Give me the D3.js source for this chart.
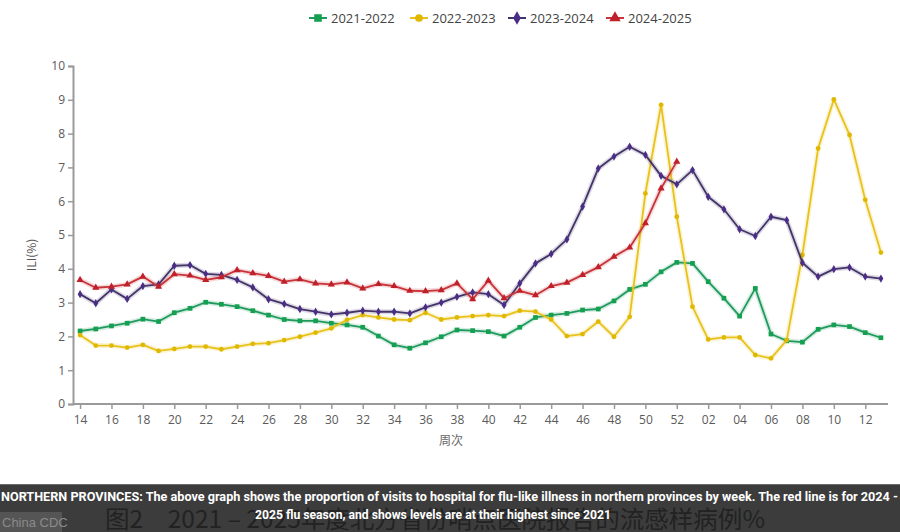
<!DOCTYPE html>
<html><head><meta charset="utf-8">
<script src="https://cdn.jsdelivr.net/npm/d3@7"></script>
<style>body{margin:0;background:#fff;overflow:hidden}</style>
</head><body><svg id="c" width="900" height="532"></svg>
<script>
const weeks = ["14","15","16","17","18","19","20","21","22","23","24","25","26","27","28","29","30","31","32","33","34","35","36","37","38","39","40","41","42","43","44","45","46","47","48","49","50","51","52","01","02","03","04","05","06","07","08","09","10","11","12","13"];
const tickLabels = ["14","16","18","20","22","24","26","28","30","32","34","36","38","40","42","44","46","48","50","52","02","04","06","08","10","12"];
const yTicks = [0,1,2,3,4,5,6,7,8,9,10];
const seriesNames = ["2021-2022","2022-2023","2023-2024","2024-2025"];
const s2122 = [2.16,2.22,2.31,2.39,2.51,2.44,2.70,2.83,3.01,2.95,2.88,2.76,2.63,2.50,2.46,2.46,2.39,2.34,2.27,2.01,1.75,1.65,1.81,1.99,2.19,2.17,2.14,2.01,2.27,2.56,2.63,2.68,2.78,2.81,3.05,3.39,3.54,3.91,4.19,4.16,3.62,3.13,2.60,3.42,2.07,1.87,1.83,2.21,2.34,2.29,2.11,1.96];
const s2223 = [2.04,1.73,1.73,1.67,1.75,1.57,1.63,1.70,1.70,1.62,1.70,1.78,1.80,1.89,1.99,2.11,2.24,2.49,2.63,2.56,2.50,2.48,2.70,2.50,2.56,2.60,2.63,2.60,2.76,2.73,2.50,2.01,2.07,2.44,1.99,2.58,6.23,8.85,5.54,2.88,1.91,1.97,1.97,1.45,1.35,1.89,4.41,7.56,9.01,7.96,6.04,4.48];
const s2324 = [3.25,2.98,3.39,3.11,3.49,3.54,4.09,4.11,3.85,3.82,3.67,3.45,3.10,2.96,2.81,2.73,2.65,2.70,2.76,2.73,2.73,2.68,2.86,3.00,3.17,3.30,3.25,2.93,3.57,4.16,4.44,4.87,5.84,6.97,7.32,7.61,7.37,6.75,6.50,6.92,6.13,5.76,5.17,4.97,5.54,5.44,4.18,3.77,3.99,4.04,3.77,3.71];
const s2425 = [3.67,3.44,3.47,3.54,3.77,3.47,3.84,3.80,3.67,3.75,3.96,3.87,3.79,3.62,3.69,3.57,3.54,3.60,3.42,3.55,3.49,3.35,3.34,3.37,3.57,3.10,3.65,3.13,3.35,3.22,3.49,3.59,3.82,4.05,4.36,4.63,5.35,6.38,7.17];
const captionLine1 = "NORTHERN PROVINCES: The above graph shows the proportion of visits to hospital for flu-like illness in northern provinces by week. The red line is for 2024 -";
const captionLine2 = "2025 flu season, and shows levels are at their highest since 2021";
const figTitle = "图2　2021 – 2025年度北方省份哨点医院报告的流感样病例%";

const svg = d3.select("#c");
const x = d3.scalePoint().domain(weeks).range([73, 888]).padding(0.45);
const y = d3.scaleLinear().domain([0, 10]).range([404, 66]);

const series = [
  {name: seriesNames[0], values: s2122, color: "#1f9a5e", mark: "#14a050", sym: d3.symbolSquare, size: 22},
  {name: seriesNames[1], values: s2223, color: "#e8c21c", mark: "#e0b800", sym: d3.symbolCircle, size: 18},
  {name: seriesNames[2], values: s2324, color: "#433468", mark: "#4a2d86", sym: d3.symbolDiamond, size: 20},
  {name: seriesNames[3], values: s2425, color: "#c8343a", mark: "#c0202a", sym: d3.symbolTriangle, size: 22}
];

// axes
const axCol = "#9a9a9a";
const yAxis = svg.append("g").attr("transform", "translate(73,0)")
  .call(d3.axisLeft(y).tickValues(yTicks).tickSize(5).tickPadding(3));
const xAxis = svg.append("g").attr("transform", "translate(0,404)")
  .call(d3.axisBottom(x).tickValues(tickLabels).tickSize(5).tickPadding(6));
[yAxis, xAxis].forEach(g => {
  g.selectAll("path").attr("stroke", axCol).attr("stroke-width", 2);
  g.selectAll("line").attr("stroke", axCol).attr("stroke-width", 1.5);
  g.selectAll("text").attr("fill", "#5a5a5a").style("font-family", "'Open Sans', 'Noto Sans', sans-serif").style("font-size", "12px");
});
xAxis.select("path").attr("d", "M73,0H888");

svg.append("text").attr("transform", "translate(36,255) rotate(-90)").attr("text-anchor", "middle")
  .attr("fill", "#555").style("font-family", "'Noto Sans CJK SC', 'Open Sans', sans-serif").style("font-size", "12px").text("ILI(%)");
svg.append("text").attr("x", 451).attr("y", 445).attr("text-anchor", "middle")
  .attr("fill", "#666").style("font-family", "'Noto Sans CJK SC', sans-serif").style("font-size", "12px").text("周次");

// lines
const line = d3.line().x((d, i) => x(weeks[i])).y(d => y(d));
series.forEach(s => {
  const g = svg.append("g");
  g.append("path").datum(s.values).attr("d", line).attr("fill", "none")
    .attr("stroke", s.color).attr("stroke-opacity", 0.18).attr("stroke-width", 5).attr("stroke-linejoin", "round");
  g.append("path").datum(s.values).attr("d", line).attr("fill", "none")
    .attr("stroke", s.color).attr("stroke-width", 1.8).attr("stroke-linejoin", "round");
  g.selectAll("path.m").data(s.values).enter().append("path").attr("class", "m")
    .attr("transform", (d, i) => `translate(${x(weeks[i])},${y(d)})`)
    .attr("d", d3.symbol().type(s.sym).size(s.size)).attr("fill", s.mark);
});

// legend
const legX = [309, 410, 508, 606];
series.forEach((s, i) => {
  const g = svg.append("g").attr("transform", `translate(${legX[i]},18)`);
  g.append("line").attr("x1", 0).attr("x2", 18).attr("stroke", s.color).attr("stroke-width", 2);
  g.append("path").attr("transform", "translate(9,0)").attr("d", d3.symbol().type(s.sym).size(s.size * 2.6)).attr("fill", s.mark);
  g.append("text").attr("x", 22).attr("y", 4.5).attr("fill", "#444")
    .style("font-family", "'Liberation Sans Narrow', 'Open Sans', sans-serif").style("font-size", "13px").text(s.name);
});

// bottom caption band
svg.append("rect").attr("x", 0).attr("y", 484).attr("width", 900).attr("height", 48).attr("fill", "#3c3c3c");
svg.append("line").attr("x1", 0).attr("x2", 900).attr("y1", 484.5).attr("y2", 484.5).attr("stroke", "#6a6a6a");
svg.append("text").attr("x", 105).attr("y", 528).attr("fill", "#222")
  .attr("textLength", 660).attr("lengthAdjust", "spacingAndGlyphs")
  .style("font-family", "'Noto Sans CJK SC', sans-serif").style("font-size", "24px").text(figTitle);
svg.append("rect").attr("x", 0).attr("y", 512).attr("width", 62).attr("height", 20).attr("fill", "#555");
svg.append("text").attr("x", 2).attr("y", 527).attr("fill", "#8a8a8a")
  .style("font-family", "'Liberation Sans', sans-serif").style("font-size", "13px").text("China CDC");
svg.append("text").attr("x", 1).attr("y", 501).attr("fill", "#fff")
  .attr("textLength", 897).attr("lengthAdjust", "spacingAndGlyphs")
  .style("font-family", "'Liberation Sans Narrow', 'Roboto', sans-serif").style("font-size", "13px").style("font-weight", "bold").text(captionLine1);
svg.append("text").attr("x", 433).attr("y", 519).attr("fill", "#fff").attr("text-anchor", "middle")
  .attr("textLength", 356).attr("lengthAdjust", "spacingAndGlyphs")
  .style("font-family", "'Liberation Sans Narrow', 'Roboto', sans-serif").style("font-size", "13px").style("font-weight", "bold").text(captionLine2);
</script>
</body></html>
